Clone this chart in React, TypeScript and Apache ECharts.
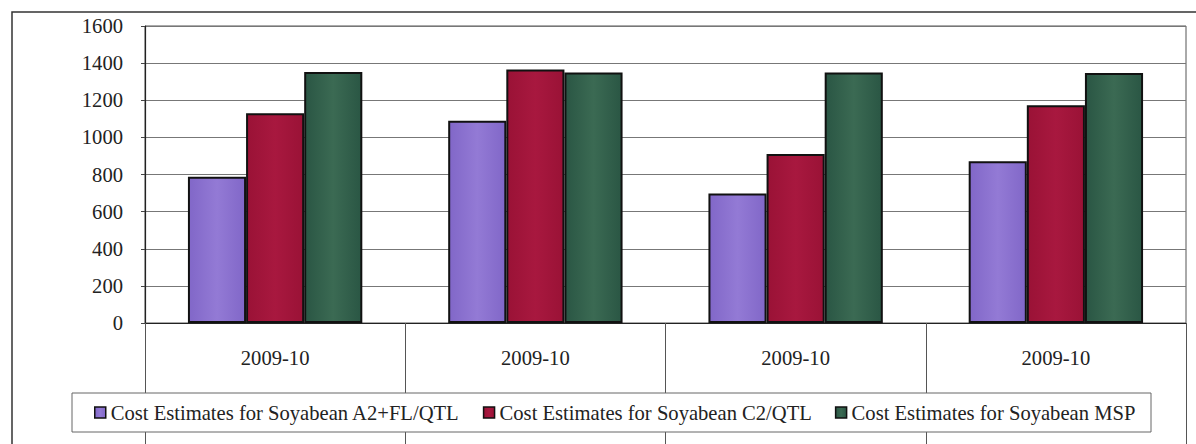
import React, { useEffect, useRef } from "react";
import * as echarts from "echarts";

const categories = ["2009-10", "2009-10", "2009-10", "2009-10"];
const seriesNames = [
  "Cost Estimates for Soyabean A2+FL/QTL",
  "Cost Estimates for Soyabean C2/QTL",
  "Cost Estimates for Soyabean MSP",
];
const a2flValues = [788, 1090, 698, 871];
const c2Values = [1130, 1366, 910, 1173];
const mspValues = [1352, 1350, 1350, 1347];
const yTicks = { min: 0, max: 1600, interval: 200 };

const FONT = "Liberation Serif";
const FS = 20.6;

function grad(edge: string, mid: string) {
  return new echarts.graphic.LinearGradient(0, 0, 1, 0, [
    { offset: 0, color: edge },
    { offset: 0.5, color: mid },
    { offset: 1, color: edge },
  ]);
}

export default function App() {
  const ref = useRef<HTMLDivElement>(null);
  useEffect(() => {
    if (!ref.current) return;
    const chart = echarts.init(ref.current, undefined, { renderer: "svg" });
    const barStyle = (edge: string, mid: string) => ({
      color: grad(edge, mid),
      borderColor: "#111111",
      borderWidth: 2,
    });
    chart.setOption({
      animation: false,
      backgroundColor: "#ffffff",
      textStyle: { fontFamily: FONT, fontSize: FS },
      grid: {
        left: 145,
        right: 10,
        top: 26,
        bottom: 121,
        show: true,
        borderColor: "#555555",
        borderWidth: 1,
        containLabel: false,
      },
      legend: {
        left: 94,
        top: 402,
        padding: 0,
        z: 10,
        itemWidth: 11,
        itemHeight: 11,
        itemGap: 23,
        icon: "rect",
        itemStyle: { borderWidth: 1.5, borderColor: "#111111" },
        textStyle: { fontFamily: FONT, fontSize: FS, color: "#222222" },
        data: seriesNames,
      },
      xAxis: {
        type: "category",
        data: categories,
        boundaryGap: true,
        axisLine: { show: true, lineStyle: { color: "#222222", width: 1.2 } },
        axisTick: {
          show: true,
          interval: 0,
          length: 125,
          lineStyle: { color: "#555555", width: 1 },
        },
        axisLabel: {
          interval: 0,
          margin: 24,
          fontFamily: FONT,
          fontSize: FS,
          color: "#222222",
        },
        splitLine: { show: false },
      },
      yAxis: {
        type: "value",
        min: yTicks.min,
        max: yTicks.max,
        interval: yTicks.interval,
        axisLine: { show: true, lineStyle: { color: "#222222", width: 1.2 } },
        axisTick: { show: true, length: 4, lineStyle: { color: "#444444" } },
        axisLabel: {
          margin: 22,
          fontFamily: FONT,
          fontSize: FS,
          color: "#222222",
          formatter: (v: number) => String(v),
        },
        splitLine: { show: true, lineStyle: { color: "#777777", width: 1 } },
      },
      graphic: [
        {
          type: "rect",
          z: 20,
          silent: true,
          shape: { x: 12, y: 12, width: 1200, height: 450 },
          style: { fill: "none", stroke: "#333333", lineWidth: 1.5 },
        },
        {
          type: "rect",
          z: 5,
          silent: true,
          shape: { x: 72, y: 393, width: 1079, height: 39 },
          style: { fill: "#ffffff", stroke: "#666666", lineWidth: 1 },
        },
      ],
      series: [
        {
          name: seriesNames[0],
          type: "bar",
          data: a2flValues,
          barGap: "0%",
          barCategoryGap: "33%",
          itemStyle: barStyle("#8167C8", "#937AD5"),
        },
        {
          name: seriesNames[1],
          type: "bar",
          data: c2Values,
          barGap: "0%",
          barCategoryGap: "33%",
          itemStyle: barStyle("#9A1236", "#A8183F"),
        },
        {
          name: seriesNames[2],
          type: "bar",
          data: mspValues,
          barGap: "0%",
          barCategoryGap: "33%",
          itemStyle: barStyle("#2A5644", "#3B6A53"),
        },
      ],
    });
    return () => chart.dispose();
  }, []);
  return (
    <div
      ref={ref}
      style={{
        position: "fixed",
        left: 0,
        top: 0,
        width: 1196,
        height: 444,
        background: "#ffffff",
      }}
    />
  );
}
